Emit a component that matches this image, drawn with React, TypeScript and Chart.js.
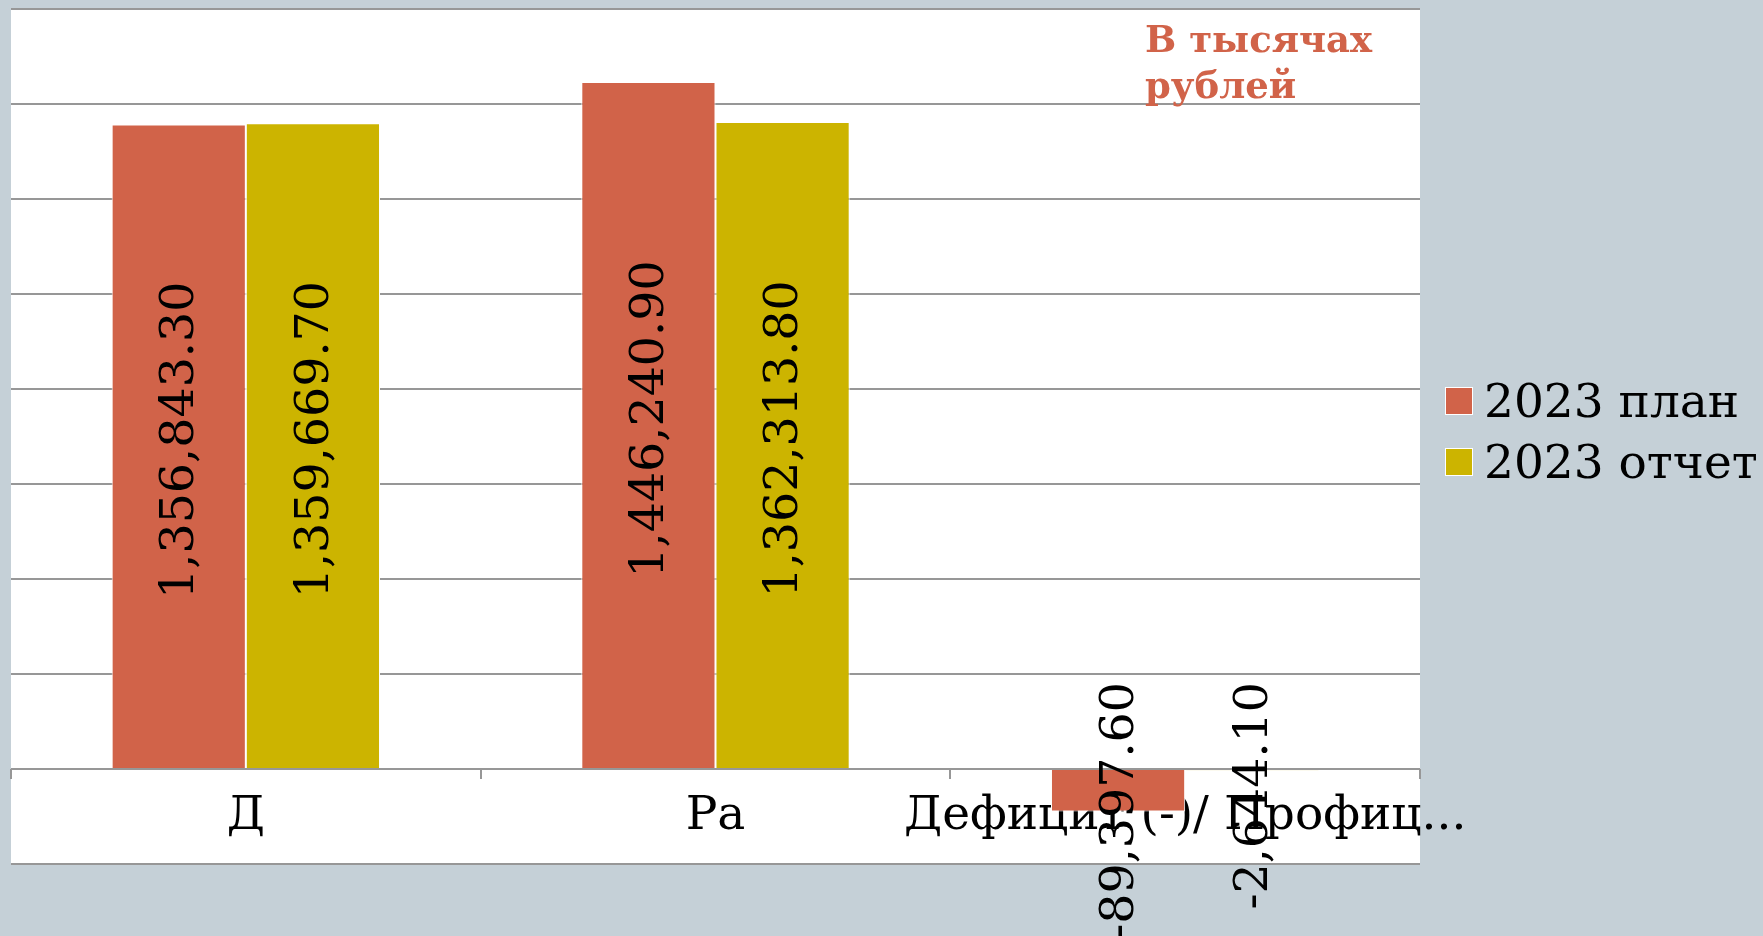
import React, { useEffect, useRef } from "react";
import { Chart, registerables } from "chart.js";

Chart.register(...registerables);

// ---- data ----
const categories = ["Д", "Ра", "Дефицит (-)/ Профиц..."];
const plan2023 = [1356843.3, 1446240.9, -89397.6];
const report2023 = [1359669.7, 1362313.8, -2644.1];
const seriesNames = ["2023 план", "2023 отчет"];
const unitsNote = ["В тысячах", "рублей"];
const yMin = -200000;
const yMax = 1600000;
const yStep = 200000;

// ---- styles ----
const PLAN = "#D16349";
const REPORT = "#CCB400";
const PAGE_BG = "#C5D0D7";
const GRID = "#979797";
const FONT = "'DejaVu Serif', 'Liberation Serif', serif";

const whiteArea = {
  id: "whiteArea",
  beforeDraw(chart: any) {
    const { ctx, chartArea: a } = chart;
    ctx.save();
    ctx.fillStyle = "#ffffff";
    ctx.fillRect(a.left, a.top, a.right - a.left, a.bottom - a.top);
    ctx.restore();
  },
};

const valueLabels = {
  id: "valueLabels",
  afterDatasetsDraw(chart: any) {
    const ctx = chart.ctx;
    const size = 47.5;
    ctx.save();
    ctx.font = `${size}px ${FONT}`;
    ctx.fillStyle = "#000000";
    ctx.textAlign = "center";
    ctx.textBaseline = "alphabetic";
    chart.data.datasets.forEach((ds: any, di: number) => {
      const meta = chart.getDatasetMeta(di);
      meta.data.forEach((bar: any, i: number) => {
        const v = ds.data[i] as number;
        const text = v.toLocaleString("en-US", {
          minimumFractionDigits: 2,
          maximumFractionDigits: 2,
        });
        const w = ctx.measureText(text).width;
        const { x, y, base } = bar.getProps(["x", "y", "base"], true);
        const cy = v >= 0 ? (y + base) / 2 - 6 : base - 88 + w / 2;
        ctx.save();
        ctx.translate(x + size * 0.31, cy);
        ctx.rotate(-Math.PI / 2);
        ctx.fillText(text, 0, 0);
        ctx.restore();
      });
    });
    ctx.restore();
  },
};

const sideLegend = {
  id: "sideLegend",
  afterDraw(chart: any) {
    const ctx = chart.ctx;
    const a = chart.chartArea;
    ctx.save();
    ctx.font = `47px ${FONT}`;
    ctx.textAlign = "left";
    ctx.textBaseline = "alphabetic";
    chart.data.datasets.forEach((ds: any, i: number) => {
      const boxX = a.right + 25;
      const boxY = 387 + i * 61;
      ctx.fillStyle = ds.backgroundColor;
      ctx.fillRect(boxX, boxY, 28, 28);
      ctx.strokeStyle = "#ffffff";
      ctx.lineWidth = 1;
      ctx.strokeRect(boxX + 0.5, boxY + 0.5, 27, 27);
      ctx.fillStyle = "#000000";
      ctx.fillText(ds.label, boxX + 39, boxY + 30);
    });
    ctx.restore();
  },
};

const unitsPlugin = {
  id: "unitsPlugin",
  afterDraw(chart: any) {
    const ctx = chart.ctx;
    ctx.save();
    ctx.font = `bold 37px ${FONT}`;
    ctx.fillStyle = PLAN;
    ctx.textAlign = "left";
    ctx.textBaseline = "alphabetic";
    unitsNote.forEach((line, i) => {
      ctx.fillText(line, 1145, 52 + i * 46);
    });
    ctx.restore();
  },
};

export default function App() {
  const ref = useRef<HTMLCanvasElement | null>(null);

  useEffect(() => {
    if (!ref.current) return;
    const chart = new Chart(ref.current, {
      type: "bar",
      data: {
        labels: categories,
        datasets: [
          {
            label: seriesNames[0],
            data: plan2023,
            backgroundColor: PLAN,
            borderColor: "#ffffff",
            borderWidth: 1,
            categoryPercentage: 0.5714,
            barPercentage: 1,
          },
          {
            label: seriesNames[1],
            data: report2023,
            backgroundColor: REPORT,
            borderColor: "#ffffff",
            borderWidth: 1,
            categoryPercentage: 0.5714,
            barPercentage: 1,
          },
        ],
      },
      options: {
        animation: false,
        responsive: true,
        maintainAspectRatio: false,
        layout: { padding: { left: 11, top: 9, right: 343, bottom: 72 } },
        plugins: {
          legend: { display: false },
          tooltip: { enabled: false },
        },
        scales: {
          x: {
            position: { y: 0 } as any,
            offset: true,
            grid: {
              offset: true,
              drawOnChartArea: false,
              drawTicks: true,
              tickLength: 10,
              color: GRID,
              lineWidth: 2,
            },
            border: { display: false },
            ticks: {
              color: "#000000",
              font: { family: FONT, size: 47 },
              padding: 10,
              maxRotation: 0,
              minRotation: 0,
              autoSkip: false,
            },
          },
          y: {
            min: yMin,
            max: yMax,
            ticks: { stepSize: yStep, display: false },
            grid: { color: GRID, lineWidth: 2, drawTicks: false },
            border: { display: false },
          },
        },
      },
      plugins: [whiteArea, valueLabels, sideLegend, unitsPlugin],
    } as any);
    return () => chart.destroy();
  }, []);

  return (
    <div
      style={{
        position: "fixed",
        left: 0,
        top: 0,
        width: 1763,
        height: 936,
        background: PAGE_BG,
      }}
    >
      <canvas ref={ref} />
    </div>
  );
}
